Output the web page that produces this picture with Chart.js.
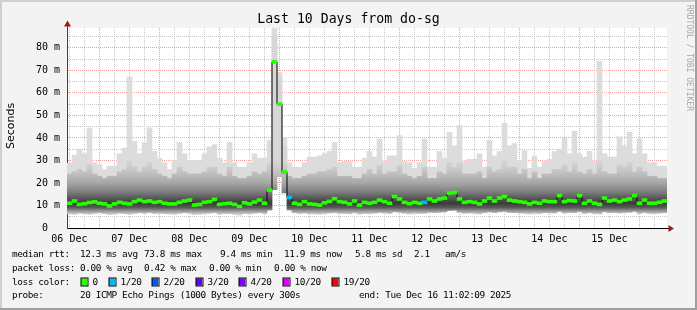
<!DOCTYPE html>
<html>
<head>
<meta charset="utf-8">
<script src="https://cdn.jsdelivr.net/npm/chart.js@4.4.0/dist/chart.umd.min.js"></script>
<style>
  html, body { margin: 0; padding: 0; background: #f3f3f3; }
</style>
</head>
<body>
<canvas id="smoke" width="697" height="310"></canvas>
<script>
// one sample every 2 hours, from Sat Dec 6 11:02 to Tue Dec 16 11:02 (values in ms)
const medianRtt = [
  11.0,12.0,10.5,10.8,11.3,11.6,11.0,10.7, 9.8,10.7,
  11.4,11.0,10.7,11.7,12.4,11.7,12.0,11.4,11.7,11.0,
  10.7,10.7,11.4,12.0,12.4,10.2,10.5,11.4,11.7,12.7,
  10.5,10.8,11.0,10.5, 9.6,11.2,10.7,11.5,12.4,11.0,
  16.8,73.8,55.0,24.8,13.6,11.0,10.5,11.7,10.7,10.5,
  10.2,11.2,11.8,13.0,11.7,11.4,10.7,12.0,10.2,11.4,
  11.0,11.4,12.4,11.7,11.0,14.0,12.9,11.4,10.8,11.4,
  11.0,11.4,12.9,12.0,12.9,13.3,15.5,15.8,12.9,11.4,
  11.7,11.4,10.7,12.0,13.3,12.0,13.3,14.0,12.4,12.0,
  11.7,11.4,10.7,11.4,11.0,12.0,11.7,11.7,14.4,11.7,
  12.2,12.0,14.4,11.0,12.0,11.0,10.5,13.3,12.0,12.4,
  11.7,12.4,12.9,14.4,11.0,12.4,11.0,11.0,11.4,12.0
];
const smokeMax = [
  28.8,32.4,35.0,33.0,44.4,29.0,28.0,26.0,27.5,27.5,
  33.0,35.5,67.0,38.5,33.0,38.0,44.5,34.0,31.0,29.0,
  26.0,30.0,38.0,33.0,30.0,30.0,30.0,33.0,36.0,37.0,
  31.0,29.0,38.0,29.0,27.0,27.0,29.0,33.0,31.0,31.0,
  39.0,88.8,69.0,40.0,29.0,27.0,27.0,29.0,31.5,31.5,
  32.0,33.0,34.0,38.0,29.0,29.5,29.5,27.0,27.0,31.0,
  34.0,31.5,39.5,29.5,32.0,32.0,41.0,29.5,29.0,26.5,
  29.0,39.5,27.0,27.0,34.0,31.0,42.5,36.5,45.5,29.5,
  30.5,30.5,33.0,27.0,39.0,32.0,34.0,46.5,36.5,37.5,
  30.0,34.4,26.5,32.0,27.0,29.5,30.5,34.0,35.0,40.0,
  33.0,43.0,33.0,31.5,34.0,29.5,74.0,33.0,31.5,31.5,
  40.5,36.5,42.6,33.0,39.5,33.0,29.0,29.0,27.5,27.5
];
const smokeUpper = [
  24,25,26,25,28,24,23,22,23,23,
  25,26,30,27,25,27,29,26,24,23,
  22,24,27,25,24,24,24,25,27,27,
  24,23,27,23,22,22,23,25,24,25,
  29,86,66,36,23,22,22,23,24,24,
  25,25,26,27,23,23,23,22,22,24,
  26,24,28,24,25,25,28,24,23,22,
  23,27,22,22,25,24,29,27,29,24,
  24,24,25,22,27,25,26,30,27,27,
  24,26,22,25,22,24,24,26,26,28,
  25,29,25,24,26,24,30,25,24,24,
  28,27,29,25,27,25,23,23,22,22
];
const smokeLow = [
  6.5,6.2,6.6,6.4,6.2,6.5,6.8,6.4,6.0,6.3,
  6.6,6.4,6.2,6.5,6.8,6.6,6.9,6.5,6.6,6.4,
  6.3,6.2,6.5,6.8,6.6,6.0,6.2,6.5,6.6,6.9,
  6.2,6.4,6.5,6.1,5.8,6.4,6.3,6.6,6.8,6.5,
  8.0,17.0,22.8,15.6,8.0,6.8,6.5,6.7,6.4,6.3,
  6.2,6.5,6.7,6.9,6.6,6.5,6.3,6.8,6.2,6.5,
  6.5,6.6,6.9,6.7,6.5,7.2,7.0,6.6,6.3,6.6,
  6.5,6.6,7.0,6.8,7.0,7.2,7.8,7.9,7.0,6.6,
  6.7,6.6,6.3,6.8,7.2,6.8,7.2,7.4,6.9,6.8,
  6.7,6.6,6.3,6.6,6.5,6.8,6.7,6.7,7.4,6.7,
  6.9,6.8,7.4,6.5,6.8,6.5,6.3,7.2,6.8,6.9,
  6.7,6.9,7.0,7.4,6.5,6.9,6.5,6.5,6.6,6.8
];
// lost pings out of 20 per sample
const lossCount = [
  0,0,0,0,0,0,0,0,0,0, 0,0,0,0,0,0,0,0,0,0,
  0,0,0,0,0,0,0,0,0,0, 0,0,0,0,0,0,0,0,0,0,
  0,0,0,0,1,0,0,0,0,0, 0,0,0,0,0,0,0,0,0,0,
  0,0,0,0,0,0,0,0,0,0, 0,1,0,0,0,0,0,0,0,0,
  0,0,0,0,0,0,0,0,0,0, 0,0,0,0,0,0,0,0,0,0,
  0,0,0,0,0,0,0,0,0,0, 0,0,0,0,0,0,0,0,0,0
];
const dayLabels = ['06 Dec','07 Dec','08 Dec','09 Dec','10 Dec','11 Dec','12 Dec','13 Dec','14 Dec','15 Dec'];
const yTicks = [0,5,10,15,20,25,30,35,40,45,50,55,60,65,70,75,80,85];
const lossSteps = [0,1,2,3,4,10,19];
const lossLabels = ['0','1/20','2/20','3/20','4/20','10/20','19/20'];
const lossColors = ['#26ff00','#00b8ff','#0059ff','#5e00ff','#7e00ff','#dd00ff','#ff0000'];

const STEP_H = 2;            // hours per sample
const FIRST_NOON = 0.964;    // hours from 11:02:09 to 12:00
const MONO = '"DejaVu Sans Mono", monospace';

function lossColor(n) {
  let c = lossColors[0];
  lossSteps.forEach((s, i) => { if (n >= s) c = lossColors[i]; });
  return c;
}

const xs = medianRtt.map((_, i) => i * STEP_H + STEP_H / 2);
let smokeGrad = null;
function smokeFill(ctx) {
  const chart = ctx.chart;
  const ya = chart.scales.y;
  if (!ya || !chart.chartArea) return '#999';
  if (smokeGrad) return smokeGrad;
  const lo = 6, hi = 30;
  const g = chart.ctx.createLinearGradient(0, ya.getPixelForValue(lo), 0, ya.getPixelForValue(hi));
  const stop = (v, c) => g.addColorStop((v - lo) / (hi - lo), c);
  stop(6, '#d0d0d0');
  stop(7.5, '#9a9a9a');
  stop(9, '#5c5c5c');
  stop(11, '#3a3a3a');
  stop(13, '#545454');
  stop(16, '#7e7e7e');
  stop(20, '#a6a6a6');
  stop(25, '#c4c4c4');
  stop(30, '#d6d6d6');
  smokeGrad = g;
  return g;
}

const extras = {
  id: 'extras',
  beforeDraw(chart) {
    const { ctx, chartArea: a } = chart;
    ctx.save();
    ctx.fillStyle = '#f3f3f3';
    ctx.fillRect(0, 0, chart.width, chart.height);
    ctx.fillStyle = '#ffffff';
    ctx.fillRect(a.left, a.top, a.right - a.left, a.bottom - a.top);
    ctx.restore();
  },
  afterDraw(chart) {
    const { ctx, chartArea: a } = chart;
    ctx.save();
    // axis extensions and arrows
    ctx.strokeStyle = '#404040';
    ctx.lineWidth = 1;
    ctx.beginPath();
    ctx.moveTo(a.left + 0.5, a.top);
    ctx.lineTo(a.left + 0.5, 24);
    ctx.stroke();
    ctx.strokeStyle = '#000';
    ctx.beginPath();
    ctx.moveTo(a.right - 4, a.bottom + 0.5);
    ctx.lineTo(a.right + 2, a.bottom + 0.5);
    ctx.stroke();
    ctx.fillStyle = '#9b1c1c';
    ctx.beginPath();
    ctx.moveTo(a.left - 3, 26.5); ctx.lineTo(a.left + 4, 26.5); ctx.lineTo(a.left + 0.5, 20.5);
    ctx.closePath(); ctx.fill();
    ctx.beginPath();
    ctx.moveTo(a.right + 1.5, a.bottom - 3); ctx.lineTo(a.right + 1.5, a.bottom + 4); ctx.lineTo(a.right + 7, a.bottom + 0.5);
    ctx.closePath(); ctx.fill();

    // title
    ctx.fillStyle = '#000';
    ctx.textBaseline = 'middle';
    ctx.textAlign = 'center';
    ctx.font = '13.2px ' + MONO;
    ctx.fillText('Last 10 Days from do-sg', 348.5, 20);

    // vertical axis title
    ctx.save();
    ctx.translate(11, 126);
    ctx.rotate(-Math.PI / 2);
    ctx.font = '11px "DejaVu Sans", sans-serif';
    ctx.fillText('Seconds', 0, 0);
    ctx.restore();

    // rrdtool watermark
    ctx.save();
    ctx.translate(689.5, 5);
    ctx.rotate(Math.PI / 2);
    ctx.textAlign = 'left';
    ctx.fillStyle = '#a8a8a8';
    ctx.font = '8px ' + MONO;
    ctx.fillText('RRDTOOL / TOBI OETIKER', 0, 0);
    ctx.restore();

    // legend block
    ctx.textAlign = 'left';
    ctx.fillStyle = '#000';
    ctx.font = '9.4px ' + MONO;
    if ('letterSpacing' in ctx) ctx.letterSpacing = '-0.4px';
    const put = (s, x, y) => ctx.fillText(s, x, y);
    const y1 = 254.5, y2 = 268.5, y3 = 282.3, y4 = 296;
    put('median rtt:', 12, y1);
    put('12.3 ms avg', 80, y1);
    put('73.8 ms max', 144, y1);
    put('9.4 ms min', 220, y1);
    put('11.9 ms now', 284, y1);
    put('5.8 ms sd', 355, y1);
    put('2.1', 414, y1);
    put('am/s', 445, y1);
    put('packet loss:', 12, y2);
    put('0.00 % avg', 80, y2);
    put('0.42 % max', 144, y2);
    put('0.00 % min', 209, y2);
    put('0.00 % now', 274, y2);
    put('loss color:', 12, y3);
    const boxX = [81, 109, 152, 196, 239, 283, 332];
    lossLabels.forEach((lab, i) => {
      ctx.fillStyle = lossColors[i];
      ctx.fillRect(boxX[i], 278.5, 6, 7);
      ctx.strokeStyle = '#000';
      ctx.strokeRect(boxX[i], 278, 7, 8);
      ctx.fillStyle = '#000';
      put(lab, boxX[i] + 11.5, y3);
    });
    put('probe:', 12, y4);
    put('20 ICMP Echo Pings (1000 Bytes) every 300s', 80, y4);
    put('end: Tue Dec 16 11:02:09 2025', 359, y4);
    if ('letterSpacing' in ctx) ctx.letterSpacing = '0px';

    // frame
    ctx.fillStyle = '#cfcfcf';
    ctx.fillRect(0, 0, chart.width, 2);
    ctx.fillRect(0, 0, 2, chart.height);
    ctx.fillStyle = '#9f9f9f';
    ctx.fillRect(chart.width - 2, 0, 2, chart.height);
    ctx.fillRect(0, chart.height - 2, chart.width, 2);
    ctx.restore();
  }
};

const pts = (lo, hi) => xs.map((x, i) => ({ x: x, y: [lo[i], hi[i]] }));

new Chart(document.getElementById('smoke'), {
  type: 'bar',
  data: {
    datasets: [
      {
        label: 'median',
        data: xs.map((x, i) => ({ x: x, y: [medianRtt[i] - 0.66, medianRtt[i] + 0.66] })),
        backgroundColor: ctx => lossColor(lossCount[ctx.dataIndex] || 0),
        grouped: false, borderWidth: 0, order: 0,
        barPercentage: 1, categoryPercentage: 1
      },
      {
        type: 'line',
        label: 'median line',
        data: xs.map((x, i) => ({ x: x, y: medianRtt[i] })),
        stepped: 'middle',
        borderColor: '#000', borderWidth: 1,
        pointRadius: 0, order: 1
      },
      {
        label: 'smoke core',
        data: pts(smokeLow, smokeUpper),
        backgroundColor: smokeFill,
        grouped: false, borderWidth: 0, order: 2,
        barPercentage: 1, categoryPercentage: 1
      },
      {
        label: 'smoke',
        data: pts(smokeLow, smokeMax),
        backgroundColor: '#dcdcdc',
        grouped: false, borderWidth: 0, order: 3,
        barPercentage: 1, categoryPercentage: 1
      }
    ]
  },
  options: {
    responsive: false,
    devicePixelRatio: 1,
    animation: false,
    layout: { padding: { top: 28, right: 30, bottom: 0, left: 0 } },
    plugins: { legend: { display: false }, tooltip: { enabled: false }, title: { display: false } },
    scales: {
      x: {
        type: 'linear', min: 0, max: 240, offset: false, z: 1,
        afterFit: s => { s.height = 82; },
        afterBuildTicks: s => {
          s.ticks = dayLabels.flatMap((_, d) => [0, 1, 2, 3].map(q => ({ value: FIRST_NOON + d * 24 + q * 6 })));
        },
        grid: {
          offset: false, drawTicks: false, lineWidth: 1,
          color: c => (c.index % 4 === 2 ? '#f2a0a0' : '#c8c8c8')
        },
        border: { display: true, color: '#000', dash: [1, 1] },
        ticks: {
          autoSkip: false, maxRotation: 0, minRotation: 0, padding: 5,
          color: '#000', font: { family: MONO, size: 10 },
          callback: (v, i) => (i % 4 === 0 ? dayLabels[i / 4] : '')
        }
      },
      y: {
        min: 0, max: 88.8, z: 1,
        afterFit: s => { s.width = 67; },
        afterBuildTicks: s => { s.ticks = yTicks.map(v => ({ value: v })); },
        grid: {
          drawTicks: false, lineWidth: 1,
          color: c => {
            const v = c.tick ? c.tick.value : 0;
            if (v === 0) return 'rgba(0,0,0,0)';
            return v % 10 === 0 ? '#f2a0a0' : '#c8c8c8';
          }
        },
        border: { display: true, color: '#404040', dash: [1, 1] },
        ticks: {
          autoSkip: false, padding: 7,
          color: '#000', font: { family: MONO, size: 10 },
          callback: v => (v % 10 !== 0 ? '' : v === 0 ? '0  ' : v + ' m')
        }
      }
    }
  },
  plugins: [extras]
});
</script>
</body>
</html>
